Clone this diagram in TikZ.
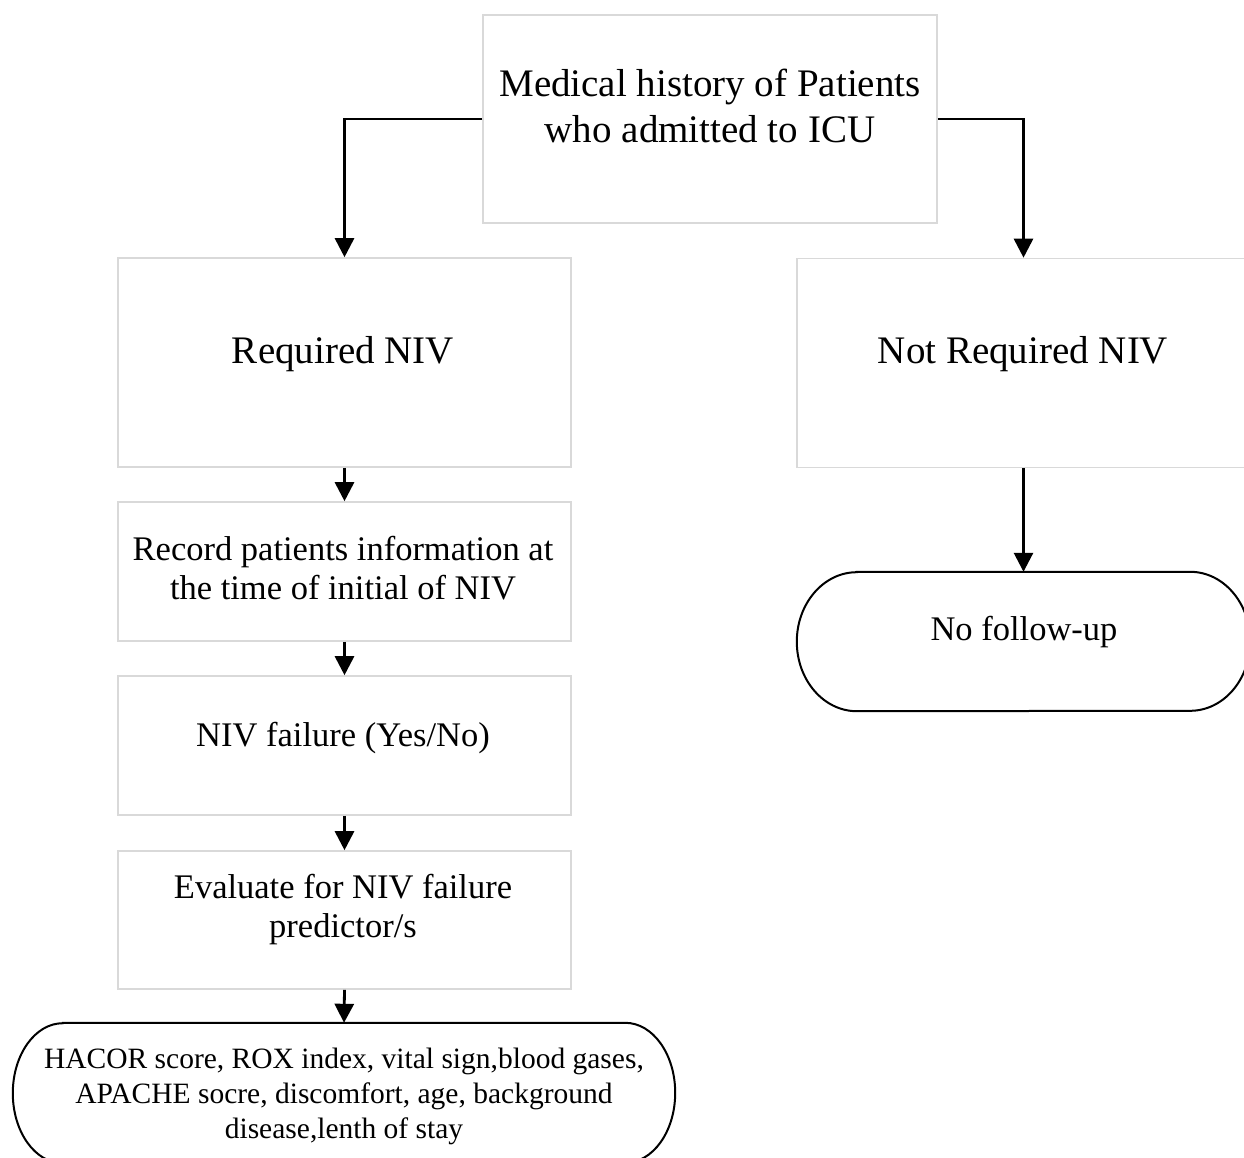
\documentclass[tikz,border=0pt]{standalone}
\usepackage{fontspec}
\setmainfont{Liberation Serif}
\usetikzlibrary{arrows.meta}
\definecolor{boxgray}{RGB}{217,217,217}
\tikzset{
  stepbox/.style={draw=boxgray, line width=1.6pt, rectangle, inner sep=0pt, fill=white},
  termshape/.style={rectangle, inner sep=0pt, draw=none},
  termline/.style={draw=black, line width=2pt},
  conn/.style={line width=2.8pt, -{Triangle[width=19pt,length=19pt]}},
  bigtxt/.style={inner sep=0pt, anchor=base, font=\fontsize{39}{46}\selectfont},
  midtxt/.style={inner sep=0pt, anchor=base, font=\fontsize{34.5}{39}\selectfont},
  smalltxt/.style={inner sep=0pt, anchor=base, font=\fontsize{29.5}{35}\selectfont},
}
\begin{document}
\begin{tikzpicture}[x=1pt,y=1pt]
\useasboundingbox (0,0) rectangle (1244,-1158);
\clip (0,0) rectangle (1244,-1158);
\fill[white] (0,0) rectangle (1244,-1158);

% boxes
\node[stepbox, minimum width=454pt, minimum height=208pt] (top) at (710,-119) {};
\node[stepbox, minimum width=453pt, minimum height=209pt] (req) at (344.5,-362.5) {};
\node[stepbox, minimum width=453pt, minimum height=209pt] (nreq) at (1023.5,-363) {};
\node[stepbox, minimum width=453pt, minimum height=139pt] (rec) at (344.5,-571.5) {};
\node[stepbox, minimum width=453pt, minimum height=139pt] (fail) at (344.5,-745.5) {};
\node[stepbox, minimum width=453pt, minimum height=138pt] (eval) at (344.5,-920) {};

% terminators
\node[termshape, minimum width=453pt, minimum height=139pt] (nf) at (1023.5,-641.5) {};
\draw[termline] ([xshift=60pt]nf.north west) -- ([xshift=-60pt]nf.north east)
  arc[start angle=90, end angle=-90, x radius=60pt, y radius=69.5pt]
  -- ([xshift=60pt]nf.south west)
  arc[start angle=270, end angle=90, x radius=60pt, y radius=69.5pt] -- cycle;

\node[termshape, minimum width=662pt, minimum height=140pt] (hac) at (344,-1093) {};
\draw[termline] ([xshift=50pt]hac.north west) -- ([xshift=-50pt]hac.north east)
  arc[start angle=90, end angle=-90, x radius=50pt, y radius=70pt]
  -- ([xshift=50pt]hac.south west)
  arc[start angle=270, end angle=90, x radius=50pt, y radius=70pt] -- cycle;

% texts
\node[bigtxt] (ttop) at (710,-97) {\begin{tabular}[t]{@{}c@{}}Medical history of Patients\\who admitted to ICU\end{tabular}};
\node[bigtxt] (treq) at (343,-363) {Required NIV};
\node[bigtxt] (tnreq) at (1023,-363) {Not Required NIV};
\node[midtxt] (trec) at (343,-560) {\begin{tabular}[t]{@{}c@{}}Record patients information at\\the time of initial of NIV\end{tabular}};
\node[midtxt] (tfail) at (343,-746) {NIV failure (Yes/No)};
\node[midtxt] (teval) at (343,-898) {\begin{tabular}[t]{@{}c@{}}Evaluate for NIV failure\\predictor/s\end{tabular}};
\node[midtxt] (tnf) at (1024,-640) {No follow-up};
\node[smalltxt] (thac) at (344,-1068) {\begin{tabular}[t]{@{}c@{}}HACOR score, ROX index, vital sign,blood gases,\\APACHE socre, discomfort, age, background\\disease,lenth of stay\end{tabular}};

% connectors
\draw[conn] (top.west) -| (req.north);
\draw[conn] (top.east) -| (nreq.north);
\draw[conn] (req.south) -- (rec.north);
\draw[conn] (rec.south) -- (fail.north);
\draw[conn] (fail.south) -- (eval.north);
\draw[conn] (eval.south) -- (hac.north);
\draw[conn] (nreq.south) -- (nf.north);
\end{tikzpicture}
\end{document}
